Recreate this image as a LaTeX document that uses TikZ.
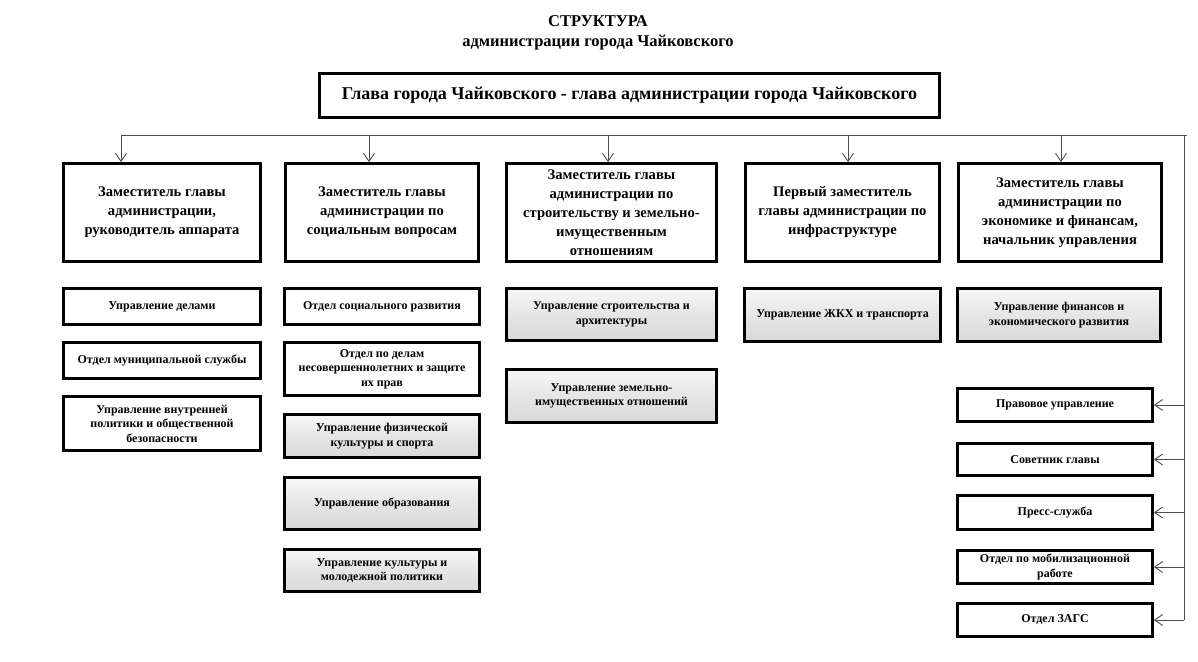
\documentclass[tikz,border=0pt]{standalone}
\usepackage{fontspec}
\setmainfont{Liberation Serif}
\usetikzlibrary{arrows.meta,shadows,calc}
\tikzset{
  boxbase/.style={draw=black, line width=2.8pt, align=center, inner sep=2pt, fill=white},
  headbox/.style={boxbase, line width=3.2pt, font=\bfseries\fontsize{18}{21}\selectfont},
  depbox/.style={boxbase, font=\bfseries\fontsize{14.6}{19}\selectfont},
  subbox/.style={boxbase, font=\bfseries\fontsize{12}{14.5}\selectfont,
     drop shadow={shadow xshift=1.5pt, shadow yshift=-1.5pt, opacity=0.25, fill=black}},
  graybox/.style={subbox, top color=gray!6, bottom color=gray!30, middle color=gray!20},
  titletext/.style={font=\bfseries\fontsize{16.5}{20}\selectfont, align=center},
  bus/.style={draw=gray!60!black, line width=0.9pt},
  conn/.style={draw=gray!60!black, line width=0.9pt, -{Straight Barb[length=8pt,width=11pt,line width=0.9pt]}}
}
\newcommand\place[7]{%
  \pgfmathsetmacro\cx{(#3+#5)/2}\pgfmathsetmacro\cy{(#4+#6)/2}%
  \pgfmathsetmacro\ww{#5-#3-3}\pgfmathsetmacro\hh{#6-#4-3}%
  \node[#2, minimum width=\ww pt, minimum height=\hh pt] (#1) at (\cx,\cy) {#7};}
\begin{document}
\begin{tikzpicture}[x=1pt,y=-1pt]
\useasboundingbox[fill=white] (0,0) rectangle (1198,661);
% title
\node[titletext] (title) at (598,33) {СТРУКТУРА\\администрации города Чайковского};
% head
\place{head}{headbox}{318}{72}{941}{119}{Глава города Чайковского - глава администрации города Чайковского}
% deputies
\place{d1}{depbox}{62}{162}{262}{263}{Заместитель главы\\администрации,\\руководитель аппарата}
\place{d2}{depbox}{284}{162}{480}{263}{Заместитель главы\\администрации по\\социальным вопросам}
\place{d3}{depbox}{505}{162}{718}{263}{Заместитель главы\\администрации по\\строительству и земельно-\\имущественным\\отношениям}
\place{d4}{depbox}{744}{162}{941}{263}{Первый заместитель\\главы администрации по\\инфраструктуре}
\place{d5}{depbox}{957}{162}{1163}{263}{Заместитель главы\\администрации по\\экономике и финансам,\\начальник управления}
% column 1
\place{s11}{subbox}{62}{287}{262}{326}{Управление делами}
\place{s12}{subbox}{62}{341}{262}{380}{Отдел муниципальной службы}
\place{s13}{subbox}{62}{395}{262}{452}{Управление внутренней\\политики и общественной\\безопасности}
% column 2
\place{s21}{subbox}{283}{287}{481}{326}{Отдел социального развития}
\place{s22}{subbox}{283}{341}{481}{397}{Отдел по делам\\несовершеннолетних и защите\\их прав}
\place{s23}{graybox}{283}{413}{481}{459}{Управление физической\\культуры и спорта}
\place{s24}{graybox}{283}{476}{481}{531}{Управление образования}
\place{s25}{graybox}{283}{548}{481}{593}{Управление культуры и\\молодежной политики}
% column 3
\place{s31}{graybox}{505}{287}{718}{342}{Управление строительства и\\архитектуры}
\place{s32}{graybox}{505}{368}{718}{424}{Управление земельно-\\имущественных отношений}
% column 4
\place{s41}{graybox}{743}{287}{942}{343}{Управление ЖКХ и транспорта}
% column 5
\place{s51}{graybox}{956}{287}{1162}{343}{Управление финансов и\\экономического развития}
\place{r1}{subbox}{956}{387}{1154}{423}{Правовое управление}
\place{r2}{subbox}{956}{442}{1154}{477}{Советник главы}
\place{r3}{subbox}{956}{494}{1154}{531}{Пресс-служба}
\place{r4}{subbox}{956}{549}{1154}{585}{Отдел по мобилизационной\\работе}
\place{r5}{subbox}{956}{602}{1154}{638}{Отдел ЗАГС}
% bus
\coordinate (a1) at (121,135);
\coordinate (a2) at (369,135);
\coordinate (a3) at (608,135);
\coordinate (a4) at (848,135);
\coordinate (a5) at (1061,135);
\coordinate (bR) at (1187,135);
\coordinate (vT) at (1184,135);
\coordinate (vB) at (1184,620);
\draw[bus] (a1) -- (bR);
\draw[bus] (vT) -- (vB);
\foreach \i in {1,...,5}{\draw[conn] (a\i) -- (a\i |- d\i.north);}
\foreach \i in {1,...,5}{\draw[conn] (r\i.east -| vT) -- (r\i.east);}
\end{tikzpicture}
\end{document}
